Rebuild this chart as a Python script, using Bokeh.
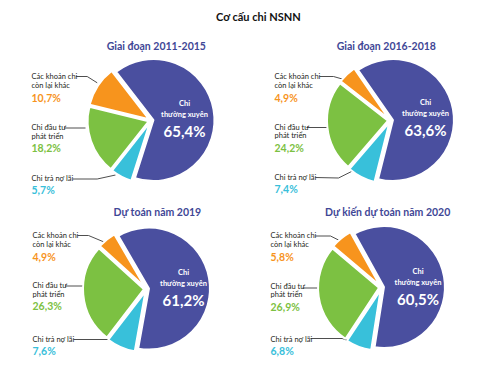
import math
from bokeh.plotting import figure
from bokeh.models import ColumnDataSource, Range1d
from bokeh.core.properties import value
from bokeh.embed import file_html
from bokeh.resources import INLINE

# ---------------- data ----------------
main_title = "Cơ cấu chi NSNN"
periods = ["Giai đoạn 2011-2015", "Giai đoạn 2016-2018",
           "Dự toán năm 2019", "Dự kiến dự toán năm 2020"]
categories = ["Các khoản chi còn lại khác", "Chi đầu tư phát triển",
              "Chi trả nợ lãi", "Chi thường xuyên"]
khac = [10.7, 4.9, 4.9, 5.8]
dau_tu = [18.2, 24.2, 26.3, 26.9]
tra_no = [5.7, 7.4, 7.6, 6.8]
thuong_xuyen = [65.4, 63.6, 61.2, 60.5]

# ---------------- style / layout ----------------
W, H = 474, 361
colors = ["#f7941d", "#7cc142", "#38c0da", "#4a4f9f"]
pct_colors = ["#f7941d", "#7cc142", "#38c0da"]
title_color = "#3f4796"
FONT = value("Lato")

def X(px):
    return px

def Y(py):
    return H - py

centers = [(150.5, 120), (390, 120), (146, 288.5), (381, 287)]
title_pos = [(155.8, 45), (385.8, 45), (157, 211.7), (387.5, 211.7)]
label_x = [31, 274, 32, 270]
khac_y = [76, 76, 235, 235]
dautu_y = [127, 126.7, 285, 285.5]
trano_y = [178, 177, 339, 338.5]
inner_x = [184, 425, 183, 417.5]
inner_y = [103, 102, 272, 271]
leaders = [
    [[(75.7, 76), (86.7, 76), (96.7, 82.3)], [(63.5, 127.5), (85, 127.5)], [(72.3, 178.5), (96.7, 178.5), (115, 174.5)]],
    [[(319, 76), (333, 76), (347, 80)], [(306, 127), (330, 127)], [(315, 177), (338, 177.5), (353, 170)]],
    [[(77, 235), (88, 235), (104, 241.7)], [(64.5, 285.5), (88, 285.5)], [(73, 339), (107, 339), (119, 344)]],
    [[(315, 235.5), (330, 235.5), (341, 241)], [(302, 287.5), (319, 287.5)], [(310, 338), (341.7, 338), (357, 343.3)]],
]
R = 61
EXPLODE = 2.5

p = figure(width=W, height=H, x_range=Range1d(0, W), y_range=Range1d(0, H),
           output_backend="svg", toolbar_location=None,
           x_axis_location=None, y_axis_location=None, min_border=0)
p.outline_line_color = None
p.xgrid.visible = False
p.ygrid.visible = False
p.background_fill_color = "white"

def fmt(v):
    return f"{v:.1f}".replace(".", ",") + "%"

wx, wy, ws, we, wc = [], [], [], [], []
tx, ty, tt, tcol, tsize, tstyle, talign = [], [], [], [], [], [], []

def add_text(x, y, t, col, size, style="normal", align="left"):
    tx.append(X(x)); ty.append(Y(y)); tt.append(t); tcol.append(col)
    tsize.append(f"{size}px"); tstyle.append(style); talign.append(align)

for i in range(4):
    vals = [khac[i], dau_tu[i], tra_no[i], thuong_xuyen[i]]
    cx, cy = centers[i]
    start = math.radians(10 + thuong_xuyen[i] * 1.8)
    a = start
    for k, v in enumerate(vals):
        span = v / 100 * 2 * math.pi
        mid = a + span / 2
        wx.append(X(cx) + EXPLODE * math.cos(mid))
        wy.append(Y(cy) + EXPLODE * math.sin(mid))
        ws.append(a); we.append(a + span); wc.append(colors[k])
        a += span

    add_text(title_pos[i][0], title_pos[i][1], periods[i], title_color, 10.5, "bold", "center")

    lx = label_x[i]
    add_text(lx, khac_y[i], "Các khoản chi", "#231f20", 7.5)
    add_text(lx, khac_y[i] + 9, "còn lại khác", "#231f20", 7.5)
    add_text(lx, khac_y[i] + 21, fmt(khac[i]), pct_colors[0], 10.5, "bold")
    add_text(lx, dautu_y[i], "Chi đầu tư", "#231f20", 7.5)
    add_text(lx, dautu_y[i] + 8.5, "phát triển", "#231f20", 7.5)
    add_text(lx, dautu_y[i] + 20.5, fmt(dau_tu[i]), pct_colors[1], 10.5, "bold")
    add_text(lx, trano_y[i], "Chi trả nợ lãi", "#231f20", 7.5)
    add_text(lx, trano_y[i] + 11.5, fmt(tra_no[i]), pct_colors[2], 10.5, "bold")

    ix, iy = inner_x[i], inner_y[i]
    add_text(ix, iy, "Chi", "white", 7.5, "bold", "center")
    add_text(ix, iy + 10.5, "thường xuyên", "white", 7.5, "bold", "center")
    add_text(ix, iy + 27, fmt(thuong_xuyen[i]), "white", 15, "bold", "center")

    for seg in leaders[i]:
        p.line([X(q[0]) for q in seg], [Y(q[1]) for q in seg],
               line_color="#3a3a3a", line_width=0.9)

p.wedge(x="x", y="y", radius=R, start_angle="s", end_angle="e",
        fill_color="c", line_color="white", line_width=2,
        source=ColumnDataSource(dict(x=wx, y=wy, s=ws, e=we, c=wc)))

add_text(258, 15.7, main_title, "#111111", 11, "bold", "center")

p.text(x="x", y="y", text="t", text_color="c", text_font_size="fs",
       text_font_style="st", text_align="al", text_baseline="middle",
       text_font=FONT,
       source=ColumnDataSource(dict(x=tx, y=ty, t=tt, c=tcol, fs=tsize,
                                    st=tstyle, al=talign)))

open("out.html", "w").write(file_html(p, INLINE))
